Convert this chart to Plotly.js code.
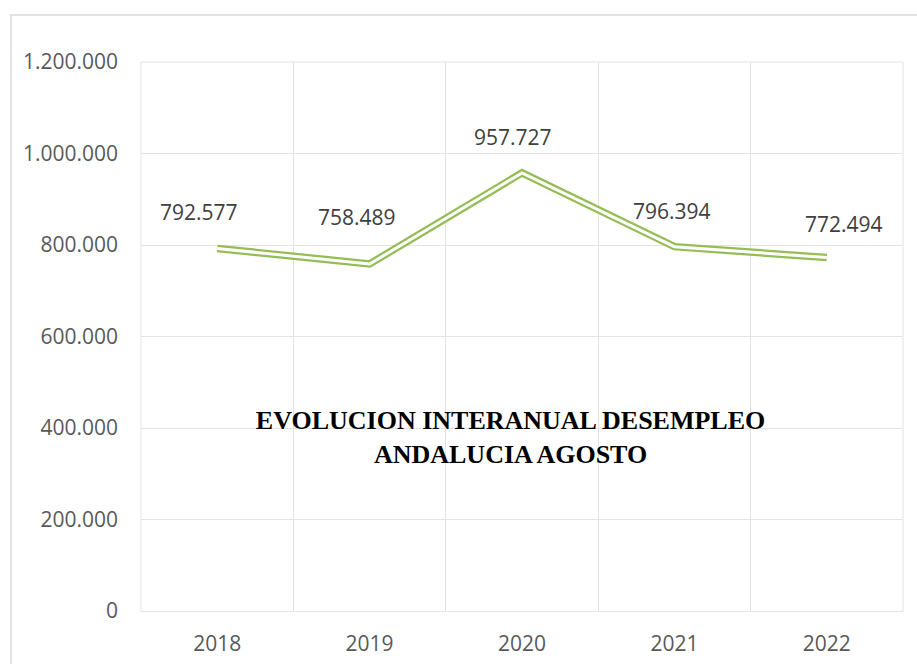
<!DOCTYPE html>
<html>
<head>
<meta charset="utf-8">
<script src="https://cdn.plot.ly/plotly-3.0.1.min.js"></script>
<style>html,body{margin:0;padding:0;background:#fff;}#chart{width:917px;height:664px;}#err{position:absolute;left:0;top:0;font-size:12px;color:red;}</style>
</head>
<body>
<div id="chart"></div>
<div id="err"></div>
<script>
const years = ['2018', '2019', '2020', '2021', '2022'];
const parados = [792577, 758489, 957727, 796394, 772494];
const yTicks = [0, 200000, 400000, 600000, 800000, 1000000, 1200000];
const chartTitle = 'EVOLUCION INTERANUAL DESEMPLEO<br>ANDALUCIA AGOSTO';

// label placement (pixels), kept separate from data
const labelShiftX = [-18, -13, -9, -2, 17];
const labelShiftY = [36, 47, 36, 36, 34];

function fmt(v) {
  return String(v).replace(/\B(?=(\d{3})+(?!\d))/g, '.');
}

const green = '#95BD55';

const traces = [
  {x: years, y: parados, type: 'scatter', mode: 'lines',
   line: {color: green, width: 7.5}, hoverinfo: 'skip', showlegend: false},
  {x: years, y: parados, type: 'scatter', mode: 'lines',
   line: {color: '#ffffff', width: 3}, hoverinfo: 'skip', showlegend: false}
];

const annotations = years.map((yr, i) => ({
  x: i, y: parados[i], xref: 'x', yref: 'y',
  text: fmt(parados[i]), showarrow: false,
  xanchor: 'center', yanchor: 'middle',
  xshift: labelShiftX[i], yshift: labelShiftY[i],
  font: {family: 'Open Sans, sans-serif', size: 21, color: '#404040'}
}));

const layout = {
  width: 917, height: 664,
  margin: {l: 141, r: 14, t: 62, b: 53},
  paper_bgcolor: '#ffffff', plot_bgcolor: '#ffffff',
  separators: ',.',
  showlegend: false,
  title: {
    text: chartTitle,
    xref: 'paper', yref: 'paper', x: 0.485, y: 0.331,
    xanchor: 'center', yanchor: 'middle',
    font: {family: 'Liberation Serif, serif', size: 26, color: '#000000', weight: 'bold'}
  },
  xaxis: {
    type: 'category', range: [-0.5, 4.5],
    tickson: 'boundaries', showgrid: true, gridcolor: '#E3E3E3', gridwidth: 1,
    ticks: '', showline: false, zeroline: false,
    tickfont: {family: 'Open Sans, sans-serif', size: 21, color: '#595959'},
    ticklabelstandoff: 18,
    fixedrange: true
  },
  yaxis: {
    range: [0, 1200000], tickvals: yTicks, ticktext: yTicks.map(fmt),
    showgrid: true, gridcolor: '#E3E3E3', gridwidth: 1,
    zeroline: true, zerolinecolor: '#E3E3E3', zerolinewidth: 1,
    showline: false, ticks: '',
    tickfont: {family: 'Open Sans, sans-serif', size: 21, color: '#595959'},
    ticklabelstandoff: 22,
    fixedrange: true
  },
  annotations: annotations,
  shapes: [
    {type: 'rect', xref: 'paper', yref: 'paper', x0: -0.1706, x1: 1.03, y0: -0.12, y1: 1.0856,
     line: {color: '#D9D9D9', width: 1.5}, fillcolor: 'rgba(0,0,0,0)', layer: 'below'},
    {type: 'line', xref: 'paper', yref: 'paper', x0: 0, x1: 1, y0: 1, y1: 1,
     line: {color: '#E3E3E3', width: 1}, layer: 'below'},
    {type: 'line', xref: 'paper', yref: 'paper', x0: 0, x1: 0, y0: 0, y1: 1,
     line: {color: '#E3E3E3', width: 1}, layer: 'below'},
    {type: 'line', xref: 'paper', yref: 'paper', x0: 1, x1: 1, y0: 0, y1: 1,
     line: {color: '#E3E3E3', width: 1}, layer: 'below'}
  ]
};

try {
  Plotly.newPlot('chart', traces, layout, {displayModeBar: false, staticPlot: true})
    .catch(e => { document.getElementById('err').textContent = 'ERR ' + e; });
} catch (e) {
  document.getElementById('err').textContent = 'ERR ' + e;
}
</script>
</body>
</html>
